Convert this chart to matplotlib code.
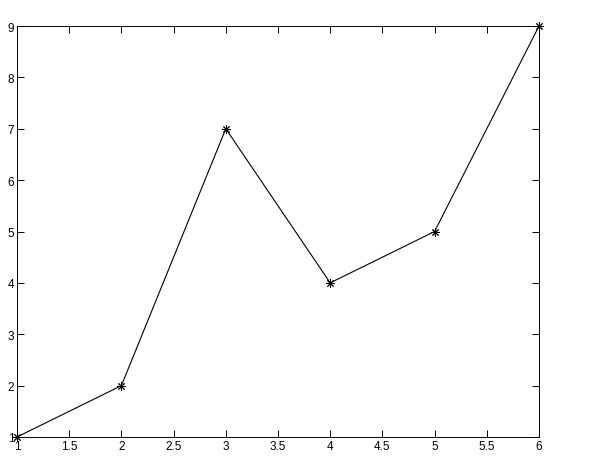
import matplotlib
matplotlib.use("Agg")
import matplotlib.pyplot as plt

plt.rcParams['font.family'] = ['Liberation Sans', 'DejaVu Sans']

x = [1, 2, 3, 4, 5, 6]
y = [1, 2, 7, 4, 5, 9]
xticks = [1, 1.5, 2, 2.5, 3, 3.5, 4, 4.5, 5, 5.5, 6]
yticks = [1, 2, 3, 4, 5, 6, 7, 8, 9]

fig = plt.figure(figsize=(6, 4.6), dpi=100)
ax = fig.add_axes([17/600, 22/460, 522/600, 411/460])
ax.plot(x, y, color='black', linewidth=0.8, marker=(8, 2, 0), markersize=6,
        markeredgewidth=0.7, clip_on=False, zorder=5)
ax.set_xlim(1, 6)
ax.set_ylim(1, 9)
ax.set_xticks(xticks)
ax.set_xticklabels([f"{t:g}" for t in xticks])
ax.set_yticks(yticks)
ax.tick_params(direction='in', top=True, right=True, length=5, width=0.7, labelsize=8.5, pad=2)
for s in ax.spines.values():
    s.set_linewidth(0.7)
fig.savefig("out.png", dpi=100)
